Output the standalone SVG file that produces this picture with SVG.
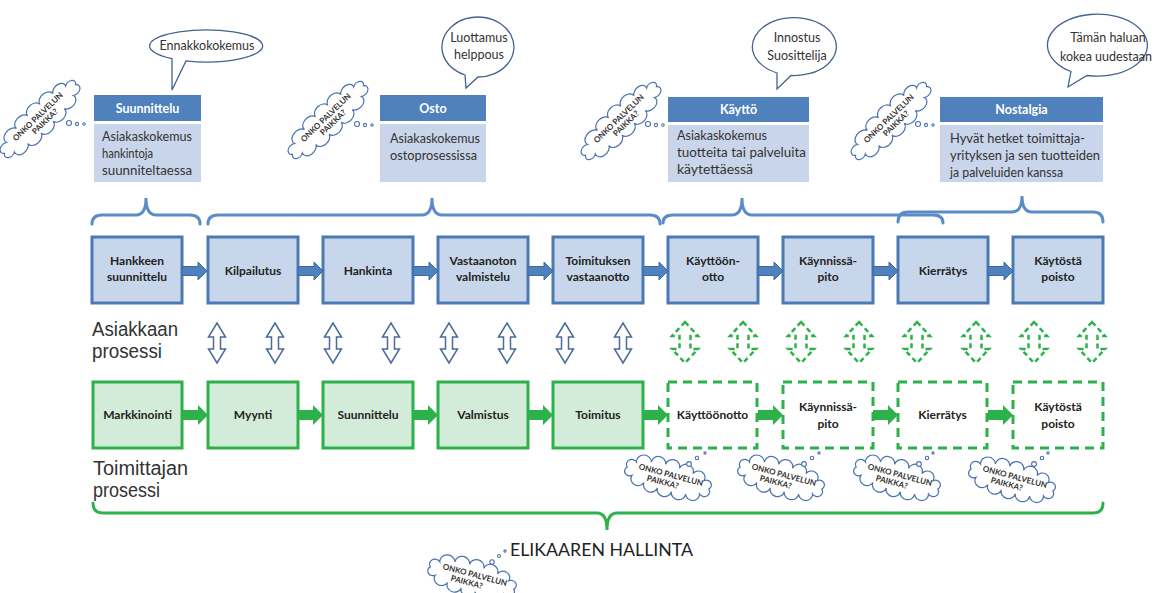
<svg xmlns="http://www.w3.org/2000/svg" xmlns:xlink="http://www.w3.org/1999/xlink" width="1156" height="593" viewBox="0 0 1156 593">
  <style>
    text { font-family: Lato, "Liberation Sans", sans-serif; }
    .hdr { fill: #4f81bd; }
    .hdrt { fill: #ffffff; font-size: 12.5px; font-weight: bold; text-anchor: middle; }
    .body { fill: #c9d5ea; }
    .bodyt { fill: #333333; font-size: 13.5px; }
    .bubble { fill: #ffffff; stroke: #44628f; stroke-width: 1.3; }
    .bubt { fill: #333333; font-size: 12.5px; text-anchor: middle; }
    .brace-b { fill: none; stroke: #5b8cc7; stroke-width: 3; stroke-linecap: round; }
    .brace-g { fill: none; stroke: #2db24b; stroke-width: 3; stroke-linecap: round; }
    .bbox { fill: #c8d6eb; stroke: #4a79b4; stroke-width: 3; }
    .gbox { fill: #d3ebd9; stroke: #2db24b; stroke-width: 3; }
    .dbox { fill: #ffffff; stroke: #2db24b; stroke-width: 3; stroke-dasharray: 9 6; }
    .lbl { fill: #222222; font-size: 12px; font-weight: bold; text-anchor: middle; }
    .barrow { fill: #4f81bd; stroke: #3d6aa3; stroke-width: 1; }
    .garrow { fill: #2db24b; }
    .dblb { fill: #ffffff; stroke: #4a6a9a; stroke-width: 1.5; stroke-linejoin: miter; }
    .dblg { fill: #ffffff; stroke: #2db24b; stroke-width: 2.5; stroke-dasharray: 5 3.5; }
    .big { fill: #333333; font-size: 19.5px; font-family: "Liberation Sans", sans-serif; }
    .cloud { fill: #ffffff; stroke: #4a72ad; stroke-width: 1.2; }
    .cloudt { fill: #333333; font-size: 8px; font-weight: bold; text-anchor: middle; }
    .dot { fill: #ffffff; stroke: #4a72ad; stroke-width: 1.1; }
  </style>
  <defs>
    <path id="cloudShape" d="M44,0 A1,1 0 0 1 36,8.1 A1,1 0 0 1 22,12.1 A1,1 0 0 1 7,13.8 A1,1 0 0 1 -8,13.8 A1,1 0 0 1 -23,11.9 A1,1 0 0 1 -37,7.6 A1,1 0 0 1 -44,0 A1,1 0 0 1 -36,-8.1 A1,1 0 0 1 -21,-12.3 A1,1 0 0 1 -6,-13.9 A1,1 0 0 1 9,-13.7 A1,1 0 0 1 24,-11.7 A1,1 0 0 1 37,-7.6 A1,1 0 0 1 44,0 Z" vector-effect="non-scaling-stroke"/>
    <path id="dblBlue" class="dblb" d="M0,323 L8.5,337 L3.5,337 L3.5,349 L8.5,349 L0,363 L-8.5,349 L-3.5,349 L-3.5,337 L-8.5,337 Z"/>
    <path id="dblGreen" class="dblg" d="M0,322 L13,336 L5.5,336 L5.5,349 L13,349 L0,363 L-13,349 L-5.5,349 L-5.5,336 L-13,336 Z"/>
    <path id="arrowB" class="barrow" d="M0,266.5 H16 V262 L25,271 L16,280 V275.5 H0 Z"/>
    <path id="arrowG" class="garrow" d="M0,410 H15 V405 L25,415 L15,425 V420 H0 Z"/>
  </defs>

  <!-- Phase cards: header + description -->
  <g id="phase-suunnittelu">
    <rect class="hdr" x="94" y="95" width="107" height="26"/>
    <text class="hdrt" x="147.5" y="113">Suunnittelu</text>
    <rect class="body" x="94" y="124" width="107" height="58"/>
    <text class="bodyt" x="102" y="141" textLength="90" lengthAdjust="spacingAndGlyphs">Asiakaskokemus</text>
    <text class="bodyt" x="102" y="158" textLength="51" lengthAdjust="spacingAndGlyphs">hankintoja</text>
    <text class="bodyt" x="102" y="175" textLength="90" lengthAdjust="spacingAndGlyphs">suunniteltaessa</text>
  </g>
  <g id="phase-osto">
    <rect class="hdr" x="380" y="95" width="106" height="26"/>
    <text class="hdrt" x="433" y="113">Osto</text>
    <rect class="body" x="380" y="124" width="106" height="58"/>
    <text class="bodyt" x="390" y="143" textLength="90" lengthAdjust="spacingAndGlyphs">Asiakaskokemus</text>
    <text class="bodyt" x="390" y="160" textLength="87" lengthAdjust="spacingAndGlyphs">ostoprosessissa</text>
  </g>
  <g id="phase-kaytto">
    <rect class="hdr" x="668" y="97" width="141" height="25"/>
    <text class="hdrt" x="738.5" y="114">Käyttö</text>
    <rect class="body" x="668" y="125" width="141" height="57"/>
    <text class="bodyt" x="677" y="140" textLength="90" lengthAdjust="spacingAndGlyphs">Asiakaskokemus</text>
    <text class="bodyt" x="677" y="157" textLength="129" lengthAdjust="spacingAndGlyphs">tuotteita tai palveluita</text>
    <text class="bodyt" x="677" y="174" textLength="76" lengthAdjust="spacingAndGlyphs">käytettäessä</text>
  </g>
  <g id="phase-nostalgia">
    <rect class="hdr" x="940" y="97" width="163" height="25"/>
    <text class="hdrt" x="1021.5" y="114">Nostalgia</text>
    <rect class="body" x="940" y="125" width="163" height="57"/>
    <text class="bodyt" x="950" y="143" textLength="135" lengthAdjust="spacingAndGlyphs">Hyvät hetket toimittaja-</text>
    <text class="bodyt" x="950" y="160" textLength="150" lengthAdjust="spacingAndGlyphs">yrityksen ja sen tuotteiden</text>
    <text class="bodyt" x="950" y="177" textLength="113" lengthAdjust="spacingAndGlyphs">ja palveluiden kanssa</text>
  </g>

  <!-- Speech bubbles -->
  <g id="bubble-ennakko">
    <path class="bubble" d="M186,60.9 A56.5,16 0 1 0 172,58.7 L172,90 Z"/>
    <text class="bubt" x="207" y="50">Ennakkokokemus</text>
  </g>
  <g id="bubble-luottamus">
    <path class="bubble" d="M478,77 A36,30 0 1 0 465,75 L466,88 Z"/>
    <text class="bubt" x="479" y="42">Luottamus</text>
    <text class="bubt" x="479" y="59">helppous</text>
  </g>
  <g id="bubble-innostus">
    <path class="bubble" d="M791,75.5 A42,29 0 1 0 777,73 L777,89 Z"/>
    <text class="bubt" x="797" y="42">Innostus</text>
    <text class="bubt" x="797" y="60">Suosittelija</text>
  </g>
  <g id="bubble-tama">
    <path class="bubble" d="M1087,75.5 A50,31 0 1 0 1071,71.5 L1068,87 Z"/>
    <text class="bubt" x="1108" y="42">Tämän haluan</text>
    <text class="bubt" x="1106" y="61">kokea uudestaan</text>
  </g>

  <!-- Thought clouds beside the phase cards -->
  <g id="cloud-top-1">
    <g transform="translate(40,119) rotate(-44)">
      <use xlink:href="#cloudShape" class="cloud" transform="scale(1.12,0.78)"/>
      <text class="cloudt" x="0" y="-0.5">ONKO PALVELUN</text>
      <text class="cloudt" x="2" y="8">PAIKKA?</text>
    </g>
    <circle class="dot" cx="69" cy="123" r="2.5"/>
    <circle class="dot" cx="77" cy="124" r="1.6"/>
    <circle class="dot" cx="84" cy="124" r="1.2"/>
  </g>
  <g id="cloud-top-2">
    <g transform="translate(328,120) rotate(-44)">
      <use xlink:href="#cloudShape" class="cloud" transform="scale(1.12,0.78)"/>
      <text class="cloudt" x="0" y="-0.5">ONKO PALVELUN</text>
      <text class="cloudt" x="2" y="8">PAIKKA?</text>
    </g>
    <circle class="dot" cx="357" cy="124" r="2.5"/>
    <circle class="dot" cx="365" cy="125" r="1.6"/>
    <circle class="dot" cx="372" cy="125" r="1.2"/>
  </g>
  <g id="cloud-top-3">
    <g transform="translate(621,121) rotate(-44)">
      <use xlink:href="#cloudShape" class="cloud" transform="scale(1.12,0.78)"/>
      <text class="cloudt" x="0" y="-0.5">ONKO PALVELUN</text>
      <text class="cloudt" x="2" y="8">PAIKKA?</text>
    </g>
    <circle class="dot" cx="648" cy="124" r="2.5"/>
    <circle class="dot" cx="656" cy="125" r="1.6"/>
    <circle class="dot" cx="663" cy="125" r="1.2"/>
  </g>
  <g id="cloud-top-4">
    <g transform="translate(891,121) rotate(-44)">
      <use xlink:href="#cloudShape" class="cloud" transform="scale(1.12,0.78)"/>
      <text class="cloudt" x="0" y="-0.5">ONKO PALVELUN</text>
      <text class="cloudt" x="2" y="8">PAIKKA?</text>
    </g>
    <circle class="dot" cx="918" cy="124" r="2.5"/>
    <circle class="dot" cx="926" cy="125" r="1.6"/>
    <circle class="dot" cx="933" cy="125" r="1.2"/>
  </g>

  <!-- Braces grouping the customer steps -->
  <g id="braces">
    <path class="brace-b" d="M92,224 Q92,215 102,215 H136 Q146,215 146,198 Q146,215 156,215 H190 Q200,215 200,224"/>
    <path class="brace-b" d="M208,224 Q208,215 218,215 H422 Q432,215 432,198 Q432,215 442,215 H650 Q660,215 660,224"/>
    <path class="brace-b" d="M663,223 Q663,215 673,215 H732 Q742,215 742,198 Q742,215 752,215 H933 Q943,215 943,223"/>
    <path class="brace-b" d="M898,222 Q898,212 908,212 H1012 Q1022,212 1022,196 Q1022,212 1032,212 H1093 Q1103,212 1103,222"/>
    <path class="brace-g" d="M93,503 Q93,513 103,513 H597 Q607,513 607,530 Q607,513 617,513 H1093 Q1103,513 1103,503"/>
  </g>

  <!-- Customer process steps -->
  <g id="c-hankkeen"><rect class="bbox" x="92" y="237" width="90" height="66"/><text class="lbl" x="137" y="265">Hankkeen</text><text class="lbl" x="137" y="281">suunnittelu</text></g>
  <g id="c-kilpailutus"><rect class="bbox" x="208" y="237" width="90" height="66"/><text class="lbl" x="253" y="275">Kilpailutus</text></g>
  <g id="c-hankinta"><rect class="bbox" x="323" y="237" width="90" height="66"/><text class="lbl" x="368" y="275">Hankinta</text></g>
  <g id="c-vastaanoton"><rect class="bbox" x="438" y="237" width="90" height="66"/><text class="lbl" x="483" y="265">Vastaanoton</text><text class="lbl" x="483" y="281">valmistelu</text></g>
  <g id="c-toimituksen"><rect class="bbox" x="553" y="237" width="90" height="66"/><text class="lbl" x="598" y="265">Toimituksen</text><text class="lbl" x="598" y="281">vastaanotto</text></g>
  <g id="c-kayttoonotto"><rect class="bbox" x="668" y="237" width="90" height="66"/><text class="lbl" x="713" y="265">Käyttöön-</text><text class="lbl" x="713" y="281">otto</text></g>
  <g id="c-kaynnissapito"><rect class="bbox" x="783" y="237" width="90" height="66"/><text class="lbl" x="828" y="265">Käynnissä-</text><text class="lbl" x="828" y="281">pito</text></g>
  <g id="c-kierratys"><rect class="bbox" x="898" y="237" width="90" height="66"/><text class="lbl" x="943" y="275">Kierrätys</text></g>
  <g id="c-kaytosta"><rect class="bbox" x="1013" y="237" width="90" height="66"/><text class="lbl" x="1058" y="265">Käytöstä</text><text class="lbl" x="1058" y="281">poisto</text></g>

  <!-- Supplier process steps -->
  <g id="s-markkinointi"><rect class="gbox" x="93" y="382" width="89" height="66"/><text class="lbl" x="137.5" y="419">Markkinointi</text></g>
  <g id="s-myynti"><rect class="gbox" x="208" y="382" width="90" height="66"/><text class="lbl" x="253" y="419">Myynti</text></g>
  <g id="s-suunnittelu"><rect class="gbox" x="323" y="382" width="90" height="66"/><text class="lbl" x="368" y="419">Suunnittelu</text></g>
  <g id="s-valmistus"><rect class="gbox" x="438" y="382" width="90" height="66"/><text class="lbl" x="483" y="419">Valmistus</text></g>
  <g id="s-toimitus"><rect class="gbox" x="553" y="382" width="90" height="66"/><text class="lbl" x="598" y="419">Toimitus</text></g>
  <g id="s-kayttoonotto"><rect class="dbox" x="668" y="382" width="89" height="66"/><text class="lbl" x="712.5" y="419">Käyttöönotto</text></g>
  <g id="s-kaynnissapito"><rect class="dbox" x="783" y="382" width="90" height="66"/><text class="lbl" x="828" y="411">Käynnissä-</text><text class="lbl" x="828" y="428">pito</text></g>
  <g id="s-kierratys"><rect class="dbox" x="898" y="382" width="89" height="66"/><text class="lbl" x="942.5" y="419">Kierrätys</text></g>
  <g id="s-kaytosta"><rect class="dbox" x="1013" y="382" width="90" height="66"/><text class="lbl" x="1058" y="411">Käytöstä</text><text class="lbl" x="1058" y="428">poisto</text></g>

  <!-- Connectors -->
  <g id="connectors">
    <use xlink:href="#arrowB" x="182"/>
    <use xlink:href="#arrowB" x="298"/>
    <use xlink:href="#arrowB" x="413"/>
    <use xlink:href="#arrowB" x="528"/>
    <use xlink:href="#arrowB" x="643"/>
    <use xlink:href="#arrowB" x="758"/>
    <use xlink:href="#arrowB" x="873"/>
    <use xlink:href="#arrowB" x="988"/>

    <use xlink:href="#arrowG" x="183"/>
    <use xlink:href="#arrowG" x="298"/>
    <use xlink:href="#arrowG" x="413"/>
    <use xlink:href="#arrowG" x="528"/>
    <use xlink:href="#arrowG" x="643"/>
    <use xlink:href="#arrowG" x="758"/>
    <use xlink:href="#arrowG" x="873"/>
    <use xlink:href="#arrowG" x="988"/>

    <use xlink:href="#dblBlue" x="217"/>
    <use xlink:href="#dblBlue" x="275"/>
    <use xlink:href="#dblBlue" x="333"/>
    <use xlink:href="#dblBlue" x="391"/>
    <use xlink:href="#dblBlue" x="449"/>
    <use xlink:href="#dblBlue" x="507"/>
    <use xlink:href="#dblBlue" x="565"/>
    <use xlink:href="#dblBlue" x="623"/>

    <use xlink:href="#dblGreen" x="685"/>
    <use xlink:href="#dblGreen" x="743"/>
    <use xlink:href="#dblGreen" x="801"/>
    <use xlink:href="#dblGreen" x="859"/>
    <use xlink:href="#dblGreen" x="917"/>
    <use xlink:href="#dblGreen" x="976"/>
    <use xlink:href="#dblGreen" x="1034"/>
    <use xlink:href="#dblGreen" x="1092"/>
  </g>

  <!-- Row titles -->
  <text class="big" x="92" y="336" textLength="86" lengthAdjust="spacingAndGlyphs">Asiakkaan</text>
  <text class="big" x="92" y="358" textLength="70" lengthAdjust="spacingAndGlyphs">prosessi</text>
  <text class="big" x="93" y="475" textLength="95" lengthAdjust="spacingAndGlyphs">Toimittajan</text>
  <text class="big" x="93" y="497" textLength="67" lengthAdjust="spacingAndGlyphs">prosessi</text>

  <!-- Thought clouds under the supplier steps -->
  <g id="cloud-bottom-1">
    <g transform="translate(668,478) rotate(15)">
      <use xlink:href="#cloudShape" class="cloud" transform="scale(0.96,0.9)"/>
      <text class="cloudt" x="2" y="-1">ONKO PALVELUN</text>
      <text class="cloudt" x="-4" y="8">PAIKKA?</text>
    </g>
    <circle class="dot" cx="689" cy="464" r="2.4"/>
    <circle class="dot" cx="697" cy="458" r="1.7"/>
    <circle class="dot" cx="705" cy="453" r="1.1"/>
  </g>
  <g id="cloud-bottom-2">
    <g transform="translate(781,478) rotate(15)">
      <use xlink:href="#cloudShape" class="cloud" transform="scale(0.96,0.9)"/>
      <text class="cloudt" x="2" y="-1">ONKO PALVELUN</text>
      <text class="cloudt" x="-4" y="8">PAIKKA?</text>
    </g>
    <circle class="dot" cx="804" cy="464" r="2.4"/>
    <circle class="dot" cx="812" cy="458" r="1.7"/>
    <circle class="dot" cx="819" cy="453" r="1.1"/>
  </g>
  <g id="cloud-bottom-3">
    <g transform="translate(897,478) rotate(15)">
      <use xlink:href="#cloudShape" class="cloud" transform="scale(0.96,0.9)"/>
      <text class="cloudt" x="2" y="-1">ONKO PALVELUN</text>
      <text class="cloudt" x="-4" y="8">PAIKKA?</text>
    </g>
    <circle class="dot" cx="919" cy="464" r="2.4"/>
    <circle class="dot" cx="927" cy="458" r="1.7"/>
    <circle class="dot" cx="933" cy="453" r="1.1"/>
  </g>
  <g id="cloud-bottom-4">
    <g transform="translate(1012,480) rotate(15)">
      <use xlink:href="#cloudShape" class="cloud" transform="scale(0.96,0.9)"/>
      <text class="cloudt" x="2" y="-1">ONKO PALVELUN</text>
      <text class="cloudt" x="-4" y="8">PAIKKA?</text>
    </g>
    <circle class="dot" cx="1034" cy="464" r="2.4"/>
    <circle class="dot" cx="1042" cy="458" r="1.7"/>
    <circle class="dot" cx="1048" cy="453" r="1.1"/>
  </g>

  <!-- Life-cycle label -->
  <g id="elikaari">
    <text x="510" y="556" style="fill:#222222;font-size:17px" textLength="183" lengthAdjust="spacingAndGlyphs">ELIKAAREN HALLINTA</text>
    <circle class="dot" cx="492" cy="562" r="2.2"/>
    <circle class="dot" cx="499" cy="556" r="1.5"/>
    <circle class="dot" cx="505" cy="551" r="1.1"/>
    <g transform="translate(472,578) rotate(15)">
      <use xlink:href="#cloudShape" class="cloud" transform="scale(0.98,0.9)"/>
      <text class="cloudt" x="2" y="-1">ONKO PALVELUN</text>
      <text class="cloudt" x="-4" y="8">PAIKKA?</text>
    </g>
  </g>
</svg>
